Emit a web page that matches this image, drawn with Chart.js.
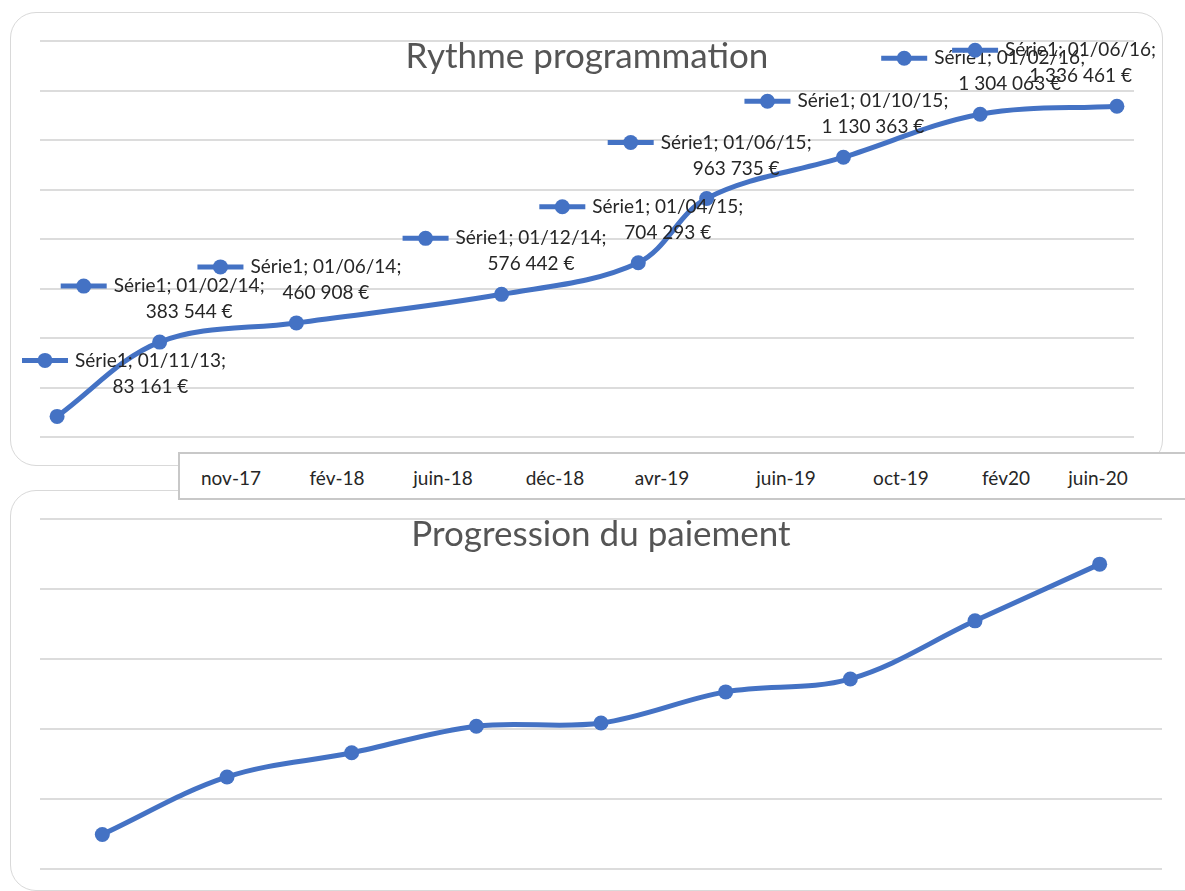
<!DOCTYPE html>
<html>
<head>
<meta charset="utf-8">
<script src="https://cdn.jsdelivr.net/npm/chart.js@4/dist/chart.umd.min.js"></script>
<style>
  body { margin: 0; background: #fff; width: 1185px; height: 891px; overflow: hidden; position: relative; font-family: Lato, sans-serif; }
  .panel { position: absolute; border: 1.5px solid #d9d9d9; border-radius: 26px; background: #fff; box-sizing: border-box; }
  #top-panel { left: 10px; top: 12px; width: 1153px; height: 454px; }
  #bottom-panel { left: 10px; top: 490px; width: 1220px; height: 401px; }
  canvas { position: absolute; left: 0; }
  #c1 { top: 0; }
  #c2 { top: 480px; }
  #axis-box { position: absolute; left: 178px; top: 452px; width: 1030px; height: 48px; border: 2px solid #c8c8c8; background: #fff; box-sizing: border-box; z-index: 5; }
  #axis-box span { position: absolute; top: 12px; transform: translateX(-50%); font-size: 19px; color: #262626; white-space: nowrap; }
</style>
</head>
<body>
<div class="panel" id="top-panel"></div>
<div class="panel" id="bottom-panel"></div>
<canvas id="c1" width="1185" height="470"></canvas>
<canvas id="c2" width="1185" height="411"></canvas>
<div id="axis-box"></div>
<script>
// data of the top chart (dates are dd/mm/yy)
let dates = ['01/11/13', '01/02/14', '01/06/14', '01/12/14', '01/04/15', '01/06/15', '01/10/15', '01/02/16', '01/06/16']
let programmation = [83161, 383544, 460908, 576442, 704293, 963735, 1130363, 1304063, 1336461]

// data of the bottom chart (no labels in it)
let monthLabels = ['nov-17', 'fév-18', 'juin-18', 'déc-18', 'avr-19', 'juin-19', 'oct-19', 'fév20', 'juin-20']
let paiement = [98600, 263000, 332000, 408000, 417000, 506000, 543000, 709000, 871000]

// centre x of each label inside the label box
let boxPos = [51, 157, 263, 375, 482, 606, 721, 826, 918]

let blue = '#4472C4'
let grid = '#dcdcdc'

function monthIndex(d) {
  let p = d.split('/')
  return (2000 + Number(p[2])) * 12 + Number(p[1]) - 1
}

function euros(v) {
  return String(v).replace(/\B(?=(\d{3})+(?!\d))/g, ' ') + ' €'
}

function panelTitle(text) {
  return {
    id: 'panelTitle',
    afterDraw(chart) {
      let a = chart.chartArea
      let c = chart.ctx
      c.save()
      c.font = '35px Lato'
      c.fillStyle = '#555555'
      c.textAlign = 'center'
      c.textBaseline = 'middle'
      c.fillText(text, (a.left + a.right) / 2, a.top + 16)
      c.restore()
    }
  }
}

// excel style data labels: legend key + "Série1; date;" + value
let dataLabels = {
  id: 'dataLabels',
  afterDatasetsDraw(chart) {
    let c = chart.ctx
    let a = chart.chartArea
    let pts = chart.getDatasetMeta(0).data
    c.save()
    c.font = '19px Lato'
    pts.forEach((p, i) => {
      let t1 = 'Série1; ' + dates[i] + ';'
      let t2 = euros(programmation[i])
      let w1 = c.measureText(t1).width
      let total = 46 + 7 + w1
      let left = p.x - total / 2 + 3
      if (left < a.left - 18) left = a.left - 18
      if (left + total > a.right + 22) left = a.right + 22 - total
      let y1 = p.y - 56
      let y2 = p.y - 30
      c.strokeStyle = blue
      c.lineWidth = 5
      c.beginPath()
      c.moveTo(left, y1)
      c.lineTo(left + 46, y1)
      c.stroke()
      c.fillStyle = blue
      c.beginPath()
      c.arc(left + 23, y1, 7.5, 0, Math.PI * 2)
      c.fill()
      c.fillStyle = '#262626'
      c.textBaseline = 'middle'
      c.textAlign = 'left'
      c.fillText(t1, left + 53, y1)
      c.textAlign = 'center'
      c.fillText(t2, left + 53 + w1 / 2, y2)
    })
    c.restore()
  }
}

let lineStyle = {
  borderColor: blue,
  backgroundColor: blue,
  borderWidth: 5,
  pointRadius: 7.5,
  pointBorderWidth: 0,
  pointBackgroundColor: blue,
  tension: 0.35,
  clip: false
}

new Chart(document.getElementById('c1'), {
  type: 'line',
  data: {
    datasets: [Object.assign({
      label: 'Série1',
      data: dates.map((d, i) => ({ x: monthIndex(d), y: programmation[i] }))
    }, lineStyle)]
  },
  options: {
    responsive: false,
    animation: false,
    layout: { padding: { left: 40, top: 41, right: 51, bottom: 33 } },
    plugins: { legend: { display: false }, tooltip: { enabled: false } },
    scales: {
      x: { type: 'linear', display: false, min: monthIndex(dates[0]) - 0.5, max: monthIndex(dates[dates.length - 1]) + 0.5 },
      y: {
        min: 0, max: 1600000,
        ticks: { display: false, stepSize: 200000 },
        grid: { color: grid, lineWidth: 2, drawTicks: false },
        border: { display: false }
      }
    }
  },
  plugins: [panelTitle('Rythme programmation'), dataLabels]
})

new Chart(document.getElementById('c2'), {
  type: 'line',
  data: {
    labels: monthLabels,
    datasets: [Object.assign({ label: 'Série1', data: paiement }, lineStyle)]
  },
  options: {
    responsive: false,
    animation: false,
    layout: { padding: { left: 40, top: 39, right: 23, bottom: 22 } },
    plugins: { legend: { display: false }, tooltip: { enabled: false } },
    scales: {
      x: { display: false, offset: true },
      y: {
        min: 0, max: 1000000,
        ticks: { display: false, stepSize: 200000 },
        grid: { color: grid, lineWidth: 2, drawTicks: false },
        border: { display: false }
      }
    }
  },
  plugins: [panelTitle('Progression du paiement')]
})

// the separate label box between the two charts
let box = document.getElementById('axis-box')
monthLabels.forEach((m, i) => {
  let s = document.createElement('span')
  s.textContent = m
  s.style.left = boxPos[i] + 'px'
  box.appendChild(s)
})
</script>
</body>
</html>
